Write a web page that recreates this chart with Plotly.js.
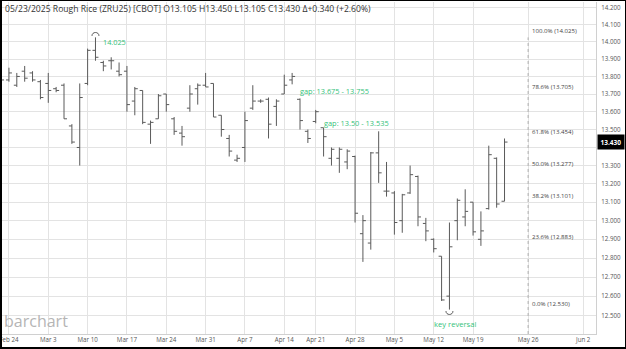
<!DOCTYPE html>
<html><head><meta charset="utf-8">
<script src="https://cdn.plot.ly/plotly-3.0.1.min.js"></script>
<style>
html,body{margin:0;padding:0;background:#fff;}
#wrap{position:relative;width:626px;height:349px;}
#chart{width:626px;height:349px;}
#frame{position:absolute;left:0;top:0;width:626px;height:349px;box-sizing:border-box;border:1px solid #000;border-left-width:2px;border-bottom-width:2px;pointer-events:none;}
</style></head>
<body><div id="wrap"><div id="chart"></div><div id="frame"></div></div>
<script>
const dates = ["2025-02-21","2025-02-24","2025-02-25","2025-02-26","2025-02-27","2025-02-28",
"2025-03-03","2025-03-04","2025-03-05","2025-03-06","2025-03-07",
"2025-03-10","2025-03-11","2025-03-12","2025-03-13","2025-03-14",
"2025-03-17","2025-03-18","2025-03-19","2025-03-20","2025-03-21",
"2025-03-24","2025-03-25","2025-03-26","2025-03-27","2025-03-28",
"2025-03-31","2025-04-01","2025-04-02","2025-04-03","2025-04-04",
"2025-04-07","2025-04-08","2025-04-09","2025-04-10","2025-04-11",
"2025-04-14","2025-04-15","2025-04-16","2025-04-17",
"2025-04-21","2025-04-22","2025-04-23","2025-04-24","2025-04-25",
"2025-04-28","2025-04-29","2025-04-30","2025-05-01","2025-05-02",
"2025-05-05","2025-05-06","2025-05-07","2025-05-08","2025-05-09",
"2025-05-12","2025-05-13","2025-05-14","2025-05-15","2025-05-16",
"2025-05-19","2025-05-20","2025-05-21","2025-05-22","2025-05-23"];
const opens = [13.80,13.78,13.75,13.83,13.82,13.77,
13.76,13.73,13.75,13.52,13.40,
13.76,13.95,13.88,13.89,13.83,
13.83,13.66,13.72,13.53,13.56,
13.70,13.56,13.48,13.62,13.73,
13.75,13.76,13.58,13.45,13.33,
13.40,13.62,13.66,13.67,13.63,
13.70,13.78,13.67,13.49,
13.545,13.51,13.34,13.34,13.32,
13.35,12.93,12.88,13.37,13.16,
13.15,13.00,13.15,13.24,12.985,
12.90,12.81,12.60,13.00,13.02,
13.10,12.90,13.065,13.34,13.105];
const highs = [13.82,13.85,13.82,13.86,13.83,13.78,
13.82,13.74,13.76,13.53,13.76,
13.96,14.025,13.89,13.91,13.88,
13.86,13.74,13.72,13.55,13.70,
13.70,13.57,13.52,13.75,13.76,
13.82,13.76,13.58,13.47,13.36,
13.60,13.75,13.67,13.68,13.67,
13.81,13.82,13.675,13.50,
13.61,13.51,13.40,13.40,13.39,
13.355,13.03,13.375,13.49,13.32,
13.16,13.145,13.30,13.245,13.015,
12.905,12.81,12.99,13.12,13.17,
13.10,13.05,13.41,13.345,13.45];
const lows = [13.76,13.77,13.74,13.77,13.77,13.67,
13.65,13.71,13.56,13.42,13.30,
13.75,13.89,13.83,13.84,13.80,
13.60,13.58,13.53,13.42,13.56,
13.60,13.47,13.41,13.60,13.64,
13.74,13.57,13.46,13.35,13.32,
13.32,13.61,13.65,13.45,13.52,
13.70,13.755,13.50,13.425,
13.535,13.35,13.30,13.26,13.28,
12.99,12.78,12.845,13.205,13.13,
12.925,12.935,13.145,12.97,12.89,
12.83,12.575,12.53,12.895,12.97,
12.92,12.865,13.06,13.07,13.105];
const closes = [13.78,13.82,13.80,13.79,13.78,13.68,
13.72,13.72,13.56,13.43,13.68,
13.95,13.91,13.86,13.89,13.81,
13.64,13.73,13.54,13.54,13.69,
13.64,13.49,13.46,13.70,13.75,
13.74,13.57,13.50,13.38,13.34,
13.55,13.66,13.66,13.53,13.66,
13.75,13.80,13.55,13.45,
13.60,13.46,13.39,13.39,13.38,
13.04,13.00,13.37,13.26,13.16,
12.99,13.14,13.25,13.02,12.945,
12.85,12.58,12.86,13.11,13.05,
12.94,12.945,13.36,13.09,13.43];

const tickDates = ["2025-02-24","2025-03-03","2025-03-10","2025-03-17","2025-03-24","2025-03-31","2025-04-07","2025-04-14","2025-04-21","2025-04-28","2025-05-05","2025-05-12","2025-05-19","2025-05-26","2025-06-02"];
const tickLabels = ["Feb 24","Mar 3","Mar 10","Mar 17","Mar 24","Mar 31","Apr 7","Apr 14","Apr 21","Apr 28","May 5","May 12","May 19","May 26","Jun 2"];
const priceTicks = [12.5,12.6,12.7,12.8,12.9,13.0,13.1,13.2,13.3,13.4,13.5,13.6,13.7,13.8,13.9,14.0,14.1,14.2];
const fibPct = ["0.0%","23.6%","38.2%","50.0%","61.8%","78.6%","100.0%"];
const fibLevels = [12.530,12.883,13.101,13.277,13.454,13.705,14.025];
const gapLabels = ["gap: 13.675 - 13.755","gap: 13.50 - 13.535"];
const gapBounds = [[13.675,13.755],[13.50,13.535]];
const gapAfter = ["2025-04-15","2025-04-21"];
const symbol = "Rough Rice (ZRU25) [CBOT]";
const headerDate = "05/23/2025";

const DAY = 86400000;
const lastIdx = dates.length - 1;
function xOf(d){
  const i = dates.indexOf(d);
  if (i >= 0) return i;
  return lastIdx + Math.round((Date.parse(d) - Date.parse(dates[lastIdx])) / DAY);
}
const xs = dates.map((d,i)=>i);
const L = Math.log10;
const GREEN = "#33c27a";
const FONT = "Open Sans, Noto Sans, sans-serif";

const trace = {
  type:'ohlc', x: xs, open: opens, high: highs, low: lows, close: closes,
  increasing:{line:{color:'#5a5a5a', width:1}},
  decreasing:{line:{color:'#5a5a5a', width:1}},
  tickwidth:0.38, hoverinfo:'skip', showlegend:false
};

const n = closes.length;
const lastClose = closes[n-1];
const chg = lastClose - closes[n-2];
const header = headerDate + " " + symbol + " O" + opens[n-1].toFixed(3) + " H" + highs[n-1].toFixed(3) +
  " L" + lows[n-1].toFixed(3) + " C" + lastClose.toFixed(3) + " \u0394" + (chg>=0?"+":"") + chg.toFixed(3) +
  " (" + (chg>=0?"+":"") + (chg/closes[n-2]*100).toFixed(2) + "%)";

const hiIdx = highs.indexOf(Math.max(...highs));
const loIdx = lows.indexOf(Math.min(...lows));
const fibX = xOf("2025-05-26");

const annotations = [
  {xref:'paper', yref:'paper', x:0, y:1, xanchor:'left', yanchor:'top', xshift:1, yshift:1, showarrow:false,
   text: header, font:{family:FONT, size:8.6, color:'#333'}},
  {xref:'paper', yref:'paper', x:0, y:0, xanchor:'left', yanchor:'bottom', xshift:0, yshift:0, showarrow:false,
   text:'barchart', font:{family:FONT, size:16, color:'#b5b5b5'}},
  {x: hiIdx, y: L(highs[hiIdx]), xanchor:'left', yanchor:'middle', xshift:6, yshift:-5, showarrow:false,
   text: highs[hiIdx].toFixed(3), font:{family:FONT, size:7.3, color:GREEN}},
  {x: loIdx, y: L(lows[loIdx]), xanchor:'center', yanchor:'top', xshift:6, yshift:-7, showarrow:false,
   text:'key reversal', font:{family:FONT, size:7.6, color:GREEN}},
  {xref:'paper', x:1, y:L(lastClose), xanchor:'left', yanchor:'middle', xshift:1, showarrow:false,
   text:'<b>'+lastClose.toFixed(3)+'</b>', bgcolor:'#000', borderpad:2.5, font:{family:FONT, size:6.5, color:'#fff'}}
];
gapLabels.forEach((t,k)=>{
  annotations.push({x: xOf(gapAfter[k]), y: (L(gapBounds[k][0])+L(gapBounds[k][1]))/2, xanchor:'left', yanchor:'middle',
    xshift:6, yshift: k===1?3:0, showarrow:false, text:t, font:{family:FONT, size:7.4, color:GREEN}});
});
fibLevels.forEach((v,i)=>{
  annotations.push({x: fibX, y: L(v), xanchor:'left', yanchor:'bottom', xshift:2, yshift:0, showarrow:false,
    text: fibPct[i]+' ('+v.toFixed(3)+')', font:{family:FONT, size:6.1, color:'#444'}});
});

const yTop = 14.232, yBot = 12.404;
// shape positions on a log axis are given in data units
const shapes = [
  {type:'line', xref:'x', yref:'y', x0:fibX, x1:fibX, y0:yBot, y1:fibLevels[fibLevels.length-1],
   line:{color:'#b0b0b0', width:1, dash:'dot'}},
  {type:'path', xref:'x', yref:'y', xsizemode:'pixel', ysizemode:'pixel', xanchor:hiIdx, yanchor:highs[hiIdx],
   path:'M -3.5 1.5 C -3.5 6 3.5 6 3.5 1.5', line:{color:'#555', width:1}},
  {type:'path', xref:'x', yref:'y', xsizemode:'pixel', ysizemode:'pixel', xanchor:loIdx, yanchor:lows[loIdx],
   path:'M -3.5 -1.5 C -3.5 -6 3.5 -6 3.5 -1.5', line:{color:'#555', width:1}}
];

const layout = {
  width:626, height:349,
  margin:{l:2, r:30, t:2, b:15},
  paper_bgcolor:'#fff', plot_bgcolor:'#fff',
  showlegend:false,
  xaxis:{
    type:'linear', range:[xOf("2025-02-24")-0.883, lastIdx+11.63],
    tickvals: tickDates.map(xOf), ticktext: tickLabels, ticklabeloverflow:'allow',
    showgrid:true, gridcolor:'#e3e3e3', gridwidth:1, zeroline:false,
    showline:true, linecolor:'#d0d0d0', ticks:'',
    tickfont:{family:FONT, size:6.2, color:'#555'},
    rangeslider:{visible:false}, fixedrange:true
  },
  yaxis:{
    type:'log', side:'right', range:[L(yBot), L(yTop)],
    tickvals: priceTicks,
    ticktext: priceTicks.map(v => Math.abs(L(v) - L(lastClose)) < 0.0012 ? '' : v.toFixed(3)),
    showgrid:true, gridcolor:'#e3e3e3', gridwidth:1, zeroline:false,
    showline:true, linecolor:'#d0d0d0', ticks:'', ticklabelstandoff:3,
    tickfont:{family:FONT, size:6.2, color:'#555'}, fixedrange:true
  },
  annotations: annotations,
  shapes: shapes
};
Plotly.newPlot('chart', [trace], layout, {staticPlot:true, displayModeBar:false});
</script></body></html>
